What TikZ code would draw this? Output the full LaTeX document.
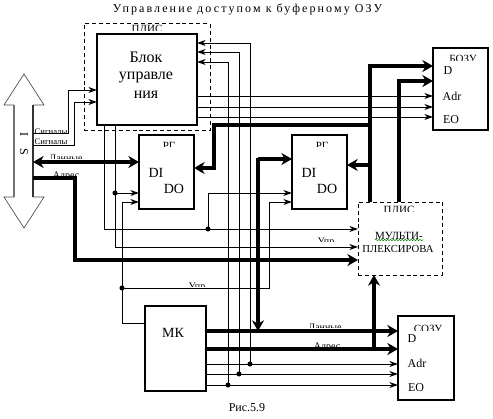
\documentclass[tikz,border=0pt]{standalone}
\usepackage{fontspec}
\setmainfont{Liberation Serif}
\newfontfamily\ttlfont[LetterSpace=17.6]{Liberation Serif}
\usetikzlibrary{arrows.meta,decorations.pathmorphing}
\tikzset{
  hardbox/.style={draw=black,line width=1.5pt,rectangle,anchor=north west,inner sep=0pt,outer sep=0pt,fill=white},
  dashbox/.style={draw=black,line width=0.75pt,dash pattern=on 3pt off 2.2pt,rectangle,anchor=north west,inner sep=0pt,outer sep=0pt},
  thin line/.style={line width=0.75pt,draw=black},
  thin arrow/.style={thin line,-{Stealth[length=6.5pt,width=4.5pt,fill=black!70]}},
  fat line/.style={line width=3pt,draw=black},
  fat arrow/.style={fat line,-{Stealth[length=8pt,width=9pt]}},
  fat both/.style={fat line,{Stealth[length=8pt,width=9pt]}-{Stealth[length=8pt,width=9pt]}},
  lab/.style={inner sep=0pt,outer sep=0pt,font=\fontsize{9}{10}\selectfont},
  biglab/.style={inner sep=0pt,outer sep=0pt,font=\fontsize{12}{13}\selectfont},
  joint/.style={fill=black}
}
\newcommand{\cliplab}[6]{% name, cx, baseline, clip bottom, size(pt), text
  \begin{scope}
    \clip (#2-70,#3-20) rectangle (#2+70,#4);
    \node[inner sep=0pt,outer sep=0pt,anchor=base,font=\fontsize{#5}{#5}\selectfont] (#1) at (#2,#3) {#6};
  \end{scope}}
\begin{document}
\begin{tikzpicture}[x=0.75pt,y=-0.75pt]
\useasboundingbox (0,0) rectangle (493,418);
\fill[white] (0,0) rectangle (493,418);
% bus
\node[minimum width=14.25pt,minimum height=69pt,anchor=north west,inner sep=0pt,outer sep=0pt] (bus) at (14,105) {};
\draw[line width=0.5pt,draw=black!70] (14,105) -- (4,105) -- (24,74) -- (44,105) -- (33,105);
\draw[line width=0.5pt,draw=black!70] (14,197) -- (4,197) -- (24,228) -- (44,197) -- (33,197);
\draw[line width=1.2pt,draw=black!55] (14,105) -- (14,197);
\draw[line width=0.9pt,draw=black!80] (33,105) -- (33,197);
\node[lab,rotate=-90] (ilab) at (24,134) {I};
\node[lab,rotate=-90] (slab) at (24,152) {S};
% dashed boxes
\node[dashbox,minimum width=94.5pt,minimum height=80.25pt] (plis) at (84,23.5) {};
\node[dashbox,minimum width=63pt,minimum height=54.75pt] (mux) at (358,202) {};
% main boxes
\node[hardbox,minimum width=75pt,minimum height=68.25pt] (ctrl) at (97,34) {};
\node[hardbox,minimum width=41.25pt,minimum height=55.5pt] (rg1) at (139,135) {};
\node[hardbox,minimum width=41.25pt,minimum height=55.5pt] (rg2) at (292,135) {};
\node[hardbox,minimum width=41.25pt,minimum height=61.5pt] (bozu) at (433,48) {};
\node[hardbox,minimum width=42pt,minimum height=63pt] (sozu) at (398,315.5) {};
\node[hardbox,minimum width=45.75pt,minimum height=64pt] (mk) at (144.5,306) {};
% junctions
\coordinate (j1) at (115,193);
\coordinate (j2) at (208,229);
\coordinate (j3) at (122,288);
\coordinate (j4) at (250,364);
\coordinate (j5) at (239,374);
\coordinate (j6) at (228,385);
\coordinate (k1) at (370,125);
\coordinate (k2) at (370,165);
\coordinate (k3) at (374,349);
\coordinate (k4) at (258,331);
% bus -> control
\draw[thin arrow] (bus.east |- 0,133) -- (68,133) -- (68,90) -- (ctrl.west |- 0,90);
\draw[thin arrow] (bus.east |- 0,145) -- (74,145) -- (74,102) -- (ctrl.west |- 0,102);
% control -> bozu
\draw[thin arrow] (ctrl.east |- 0,96) -- (bozu.west |- 0,96);
\draw[thin arrow] (ctrl.east |- 0,107) -- (bozu.west |- 0,107);
\draw[thin arrow] (ctrl.east |- 0,117) -- (bozu.west |- 0,117);
% feedback into control
\draw[thin arrow] (j4) -- (250,43) -- (ctrl.east |- 0,43);
\draw[thin arrow] (j5) -- (239,52) -- (ctrl.east |- 0,52);
\draw[thin arrow] (j6) -- (228,62) -- (ctrl.east |- 0,62);
% control -> mux
\draw[thin arrow] (104,0 |- ctrl.south) -- (104,229) -- (mux.west |- 0,229);
\draw[thin arrow] (115,0 |- ctrl.south) -- (115,247) -- (mux.west |- 0,247);
\draw[thin arrow] (j1) -- (rg1.west |- j1);
\draw[thin arrow] (j2) -- (208,193) -- (rg2.west |- 0,193);
% mk -> registers
\draw[thin line] (mk.west |- 0,323) -- (122,323) -- (122,202);
\draw[thin arrow] (122,202) -- (rg1.west |- 0,202);
\draw[thin arrow] (j3) -- (269,288) -- (269,202) -- (rg2.west |- 0,202);
% mk -> sozu
\draw[thin arrow] (mk.east |- 0,364) -- (sozu.west |- 0,364);
\draw[thin arrow] (mk.east |- 0,374) -- (sozu.west |- 0,374);
\draw[thin arrow] (mk.east |- 0,385) -- (sozu.west |- 0,385);
% fat buses
\draw[fat both] (bus.east |- 0,162) -- (rg1.west |- 0,162);
\draw[fat arrow] (bus.east |- 0,178) -- (75,178) -- (75,260) -- (mux.west |- 0,260);
\draw[fat arrow] (k1) -- (214,125) -- (214,168) -- (rg1.east |- 0,168);
\draw[fat arrow] (370,0 |- mux.north) -- (370,66) -- (bozu.west |- 0,66);
\draw[fat arrow] (k2) -- (rg2.east |- k2);
\draw[fat arrow] (399,0 |- mux.north) -- (399,81) -- (bozu.west |- 0,81);
\draw[fat arrow] (258,159) -- (rg2.west |- 0,159);
\draw[fat arrow] (258,157.5) -- (k4);
\draw[fat arrow] (mk.east |- 0,331) -- (sozu.west |- 0,331);
\draw[fat arrow] (mk.east |- 0,349) -- (sozu.west |- 0,349);
\draw[fat arrow] (k3) -- (374,0 |- mux.south);
% dots
\foreach \c in {j1,j2,j3,j4,j5,j6} \fill[joint] (\c) circle[radius=1.9pt];
% box texts
\node[biglab] (t1) at (146,57) {Блок};
\node[biglab] (t2) at (146,77) {управле};
\node[biglab] (t3) at (146,95) {ния};
\node[biglab,font=\fontsize{10.5}{11}\selectfont] (d1) at (156,173) {DI};
\node[biglab,font=\fontsize{10.5}{11}\selectfont] (o1) at (174,189) {DO};
\node[biglab,font=\fontsize{10.5}{11}\selectfont] (d2) at (309,173) {DI};
\node[biglab,font=\fontsize{10.5}{11}\selectfont] (o2) at (327,189) {DO};
\node[biglab,font=\fontsize{10.5}{11}\selectfont] (mkt) at (173,333) {МК};
\node[lab] (b1) at (448,71) {D};
\node[lab] (b2) at (452,96) {Adr};
\node[lab] (b3) at (451,120) {EO};
\node[lab] (s1) at (412,339) {D};
\node[lab] (s2) at (417,363) {Adr};
\node[lab] (s3) at (416,388) {EO};
% clipped labels
\cliplab{l1}{147}{32}{30}{8.25}{ПЛИС}
\cliplab{l2}{399}{213.3}{211}{8.25}{ПЛИС}
\cliplab{l3}{169}{149}{146}{8.25}{РГ}
\cliplab{l4}{322}{149}{146}{8.25}{РГ}
\cliplab{l5}{463}{62}{60}{8.25}{БОЗУ}
\cliplab{l6}{428}{332.3}{330}{8.25}{СОЗУ}
\cliplab{l7}{51}{134}{132}{6.5}{Сигналы}
\cliplab{l8}{51}{144.7}{143}{6.5}{Сигналы}
\cliplab{l9}{66}{161}{158}{7.5}{Данные}
\cliplab{l10}{66}{178}{175}{7.5}{Адрес}
\cliplab{l11}{325}{330.6}{327}{7.5}{Данные}
\cliplab{l12}{327}{349.6}{346}{7.5}{Адрес}
\cliplab{l13}{197}{289.3}{286}{7.5}{Упр}
\cliplab{l14}{326}{244}{241}{7.5}{Упр}
\node[lab,font=\fontsize{8.25}{9}\selectfont] (m1) at (399,235.5) {МУЛЬТИ-};
\draw[draw=green!50!black,line width=0.4pt,decorate,decoration={snake,amplitude=0.5pt,segment length=2.2pt}] (375,240) -- (423,240);
\cliplab{l15}{398}{252.5}{251}{8}{ПЛЕКСИРОВА}
% title and caption
\node[inner sep=0pt,font=\ttlfont\fontsize{9}{10}\selectfont] (title) at (247.5,9) {Управление доступом к буферному ОЗУ};
\node[inner sep=0pt,font=\fontsize{9}{10}\selectfont] (cap) at (247,408) {Рис.5.9};
\end{tikzpicture}
\end{document}
